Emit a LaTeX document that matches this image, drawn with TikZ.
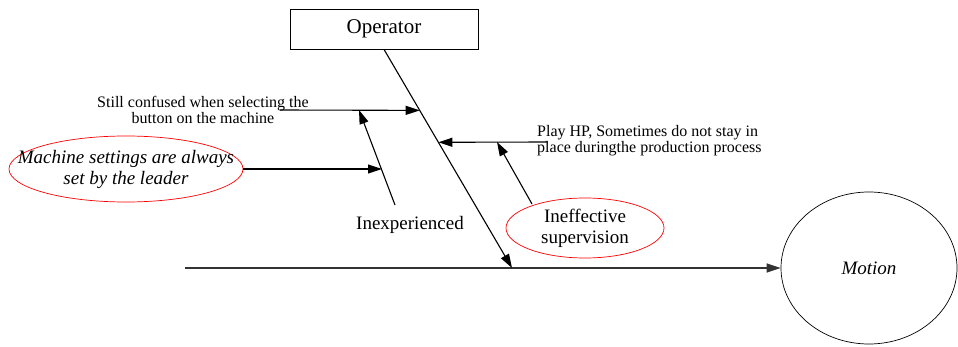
\documentclass[tikz,border=0pt]{standalone}
\usepackage{fontspec}
\setmainfont{Liberation Serif}
\usetikzlibrary{arrows.meta,shapes.geometric,calc}
\begin{document}
\begin{tikzpicture}[x=1pt,y=-1pt,every node/.style={inner sep=0pt},
  arr/.style={draw,line width=1.1pt,-{Triangle[length=14pt,width=9pt]}},
  note/.style={font=\fontsize{16}{16}\selectfont,align=center},
  big/.style={font=\fontsize{19}{21}\selectfont,align=center},
  redell/.style={draw=red,ellipse,line width=0.7pt}]
\useasboundingbox (0,0) rectangle (958,347);
% head and spine
\node[draw,line width=0.8pt,minimum width=188pt,minimum height=40pt,font=\fontsize{21}{21}\selectfont] (op) at (384,29) {Operator};
\node[draw,ellipse,line width=0.7pt,minimum width=176pt,minimum height=152pt,font=\fontsize{19}{19}\selectfont\itshape] (motion) at (869,268) {Motion};
\coordinate (tail) at (185,268);
\coordinate (head) at (512,268);
\draw[arr,line width=1.4pt,black!80] (tail) -- (motion);
\draw[arr] (op.south) -- (head);
\coordinate (b1) at ($(op.south)!0.279!(head)$);
\coordinate (b2) at ($(op.south)!0.425!(head)$);
% left causes
\node[note] (still) at (203,110) {Still confused when selecting the\\button on the machine};
\coordinate (s0) at (280,110);
\draw[arr] (s0) -- (b1);
\node[big] (inexp) at (410,225) {Inexperienced};
\coordinate (i0) at (395,205);
\coordinate (i1) at (359,110);
\coordinate (i2) at (382,169);
\draw[arr] (i0) -- (i1);
\node[redell,minimum width=234pt,minimum height=66pt] (mach) at (126,169) {};
\node[big,font=\fontsize{19}{21}\selectfont\itshape] (machtxt) at (mach) {Machine settings are always\\set by the leader};
\draw[arr] (mach) -- (i2);
% right causes
\node[note,align=left,anchor=west] (play) at (537,141) {Play HP, Sometimes do not stay in\\place duringthe production process};
\coordinate (p0) at (547,142);
\draw[arr] (p0) -- (b2);
\node[redell,minimum width=158pt,minimum height=60pt] (ineff) at (585,228) {};
\node[big] (inefftxt) at (ineff) {Ineffective\\supervision};
\coordinate (e0) at (532,204);
\coordinate (e1) at (497,142);
\draw[arr] (e0) -- (e1);
\end{tikzpicture}
\end{document}
